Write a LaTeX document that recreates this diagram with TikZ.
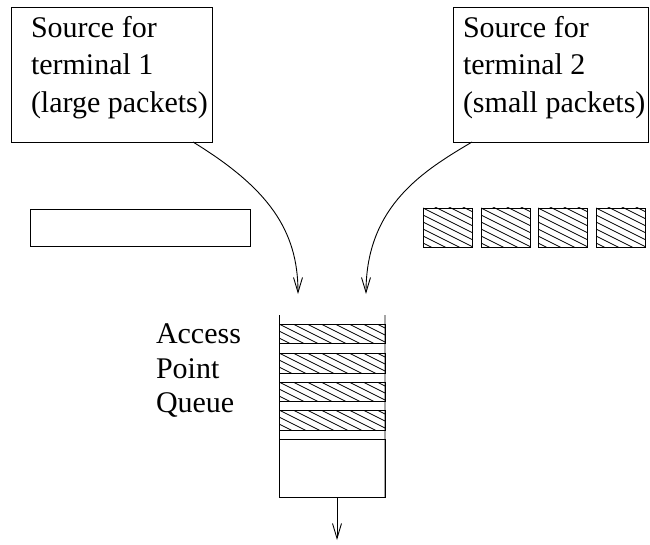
\documentclass[tikz,border=0pt]{standalone}
\usepackage{fontspec}
\setmainfont{Liberation Serif}
\usetikzlibrary{arrows.meta,calc}
\begin{document}
\begin{tikzpicture}[x=1bp,y=-1bp, line width=0.9bp,
  box/.style={draw, rectangle, inner sep=0pt, outer sep=0pt, anchor=north west},
  lbl/.style={inner sep=0pt, outer sep=0pt, anchor=north west, align=left, font=\fontsize{30bp}{37.5bp}\selectfont},
  hatched/.style={path picture={\foreach \k in {-14,...,14} \draw[line width=0.7bp] ([yshift=\k*7bp]path picture bounding box.north west) -- ++(160bp,-80bp);}},
  flow/.style={-{Straight Barb[length=15bp,width=9bp]}, line width=0.9bp},
]
\useasboundingbox (0,0) rectangle (650,545);

% sources
\node[box, minimum width=201bp, minimum height=135bp] (box1) at (11,7) {};
\node[lbl] (t1) at (31,16) {Source for\\terminal 1\\(large packets)};
\node[box, minimum width=195bp, minimum height=135bp] (box2) at (453,7) {};
\node[lbl] (t2) at (463,16) {Source for\\terminal 2\\(small packets)};

% packets
\node[box, minimum width=220bp, minimum height=37bp] (big) at (30,209) {};
\node[box, hatched, minimum width=49bp, minimum height=39bp] (p1) at (423,208) {};
\node[box, hatched, minimum width=49bp, minimum height=39bp] (p2) at (481,208) {};
\node[box, hatched, minimum width=49bp, minimum height=39bp] (p3) at (538,208) {};
\node[box, hatched, minimum width=49bp, minimum height=39bp] (p4) at (596,208) {};

% queue
\coordinate (qtl) at (279,315);
\coordinate (qtr) at (385,315);
\node[box, hatched, minimum width=106bp, minimum height=19bp] (q1) at (279,324) {};
\node[box, hatched, minimum width=106bp, minimum height=20bp] (q2) at (279,353) {};
\node[box, hatched, minimum width=106bp, minimum height=19bp] (q3) at (279,382) {};
\node[box, hatched, minimum width=106bp, minimum height=20bp] (q4) at (279,410) {};
\node[box, minimum width=106bp, minimum height=58bp] (qbig) at (279,439) {};
\draw (qtl) -- (qbig.south west);
\draw (qtr) -- (qbig.south east);
\node[lbl, font=\fontsize{30bp}{34.8bp}\selectfont] (qlabel) at (156,323.5) {Access\\Point\\Queue};

% flows
\coordinate (in1) at (298,294);
\coordinate (in2) at (366,294);
\coordinate (out) at (337,540);
\draw[flow] ($(box1.south west)+(182,0)$) .. controls (268,188) and (298,230) .. (in1);
\draw[flow] ($(box2.south west)+(19,0)$) .. controls (425,170) and (366,205) .. (in2);
\draw[flow] (qbig.south -| out) -- (out);
\end{tikzpicture}
\end{document}
